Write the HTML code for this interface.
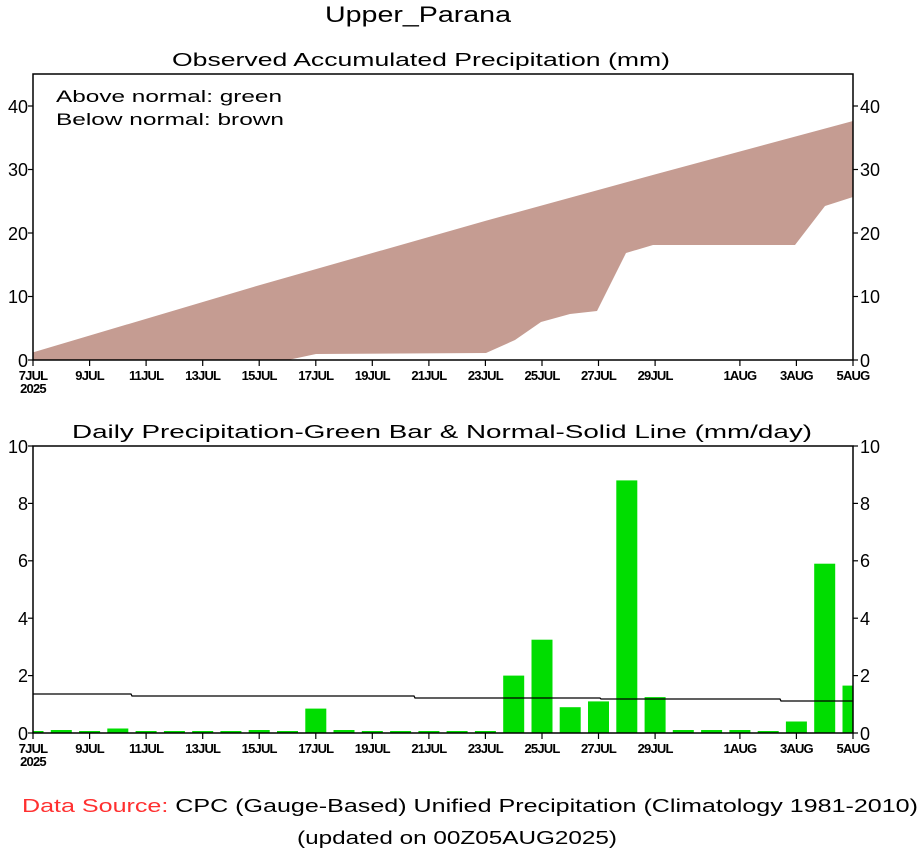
<!DOCTYPE html>
<html><head><meta charset="utf-8"><style>
html,body{margin:0;padding:0;background:#fff;}
svg{display:block;}
text{font-family:"Liberation Sans",sans-serif;fill:#000;}
</style></head><body>
<svg width="922" height="854" viewBox="0 0 922 854" xmlns="http://www.w3.org/2000/svg">
<defs><clipPath id="cb"><rect x="33" y="446" width="820" height="287"/></clipPath></defs>
<text x="325" y="22" font-size="22" textLength="186" lengthAdjust="spacingAndGlyphs">Upper_Parana</text>
<text x="172" y="66" font-size="18" textLength="498" lengthAdjust="spacingAndGlyphs">Observed Accumulated Precipitation (mm)</text>

<!-- top panel -->
<polygon fill="#c59c92" points="33,352.4 259.2,285.2 485.4,220.9 655.1,174.4 853,121 853,197 825,206 795,245 653,245 626,253 597,311 570,314 541,322 515,340 486,353 316,354 288,360 33,360"/>
<rect x="33" y="74" width="820" height="286" fill="none" stroke="#000" stroke-width="1.5"/>
<text x="56" y="102" font-size="17" textLength="226" lengthAdjust="spacingAndGlyphs">Above normal: green</text>
<text x="56" y="125" font-size="17" textLength="228" lengthAdjust="spacingAndGlyphs">Below normal: brown</text>
<g font-size="18">
<text x="28" y="367" text-anchor="end">0</text><text x="28" y="303" text-anchor="end">10</text><text x="28" y="240" text-anchor="end">20</text><text x="28" y="176" text-anchor="end">30</text><text x="28" y="113" text-anchor="end">40</text>
<text x="860" y="367">0</text><text x="860" y="303">10</text><text x="860" y="240">20</text><text x="860" y="176">30</text><text x="860" y="113">40</text>
</g>
<g stroke="#000" stroke-width="1.2">
<line x1="28" y1="360" x2="33" y2="360"/><line x1="28" y1="296.5" x2="33" y2="296.5"/><line x1="28" y1="233" x2="33" y2="233"/><line x1="28" y1="169.5" x2="33" y2="169.5"/><line x1="28" y1="106" x2="33" y2="106"/>
<line x1="853" y1="360" x2="858" y2="360"/><line x1="853" y1="296.5" x2="858" y2="296.5"/><line x1="853" y1="233" x2="858" y2="233"/><line x1="853" y1="169.5" x2="858" y2="169.5"/><line x1="853" y1="106" x2="858" y2="106"/>
</g>
<g id="xt" stroke="#000" stroke-width="1.2">
<line x1="33" y1="360" x2="33" y2="366"/><line x1="89.6" y1="360" x2="89.6" y2="366"/><line x1="146.1" y1="360" x2="146.1" y2="366"/><line x1="202.7" y1="360" x2="202.7" y2="366"/><line x1="259.2" y1="360" x2="259.2" y2="366"/><line x1="315.8" y1="360" x2="315.8" y2="366"/><line x1="372.3" y1="360" x2="372.3" y2="366"/><line x1="428.9" y1="360" x2="428.9" y2="366"/><line x1="485.4" y1="360" x2="485.4" y2="366"/><line x1="542" y1="360" x2="542" y2="366"/><line x1="598.5" y1="360" x2="598.5" y2="366"/><line x1="655.1" y1="360" x2="655.1" y2="366"/><line x1="739.9" y1="360" x2="739.9" y2="366"/><line x1="796.4" y1="360" x2="796.4" y2="366"/><line x1="853" y1="360" x2="853" y2="366"/>
</g>
<g id="xl" font-size="13" font-weight="bold" text-anchor="middle" letter-spacing="-0.8">
<text x="33" y="380">7JUL</text><text x="33" y="393">2025</text><text x="89.6" y="380">9JUL</text><text x="146.1" y="380">11JUL</text><text x="202.7" y="380">13JUL</text><text x="259.2" y="380">15JUL</text><text x="315.8" y="380">17JUL</text><text x="372.3" y="380">19JUL</text><text x="428.9" y="380">21JUL</text><text x="485.4" y="380">23JUL</text><text x="542" y="380">25JUL</text><text x="598.5" y="380">27JUL</text><text x="655.1" y="380">29JUL</text><text x="739.9" y="380">1AUG</text><text x="796.4" y="380">3AUG</text><text x="853" y="380">5AUG</text>
</g>

<!-- bottom panel -->
<text x="72" y="438" font-size="18" textLength="740" lengthAdjust="spacingAndGlyphs">Daily Precipitation-Green Bar &amp; Normal-Solid Line (mm/day)</text>
<g fill="#00dd00" clip-path="url(#cb)">
<rect x="22.5" y="731" width="21" height="2"/>
<rect x="50.8" y="730" width="21" height="3"/>
<rect x="79.1" y="731" width="21" height="2"/>
<rect x="107.3" y="728.5" width="21" height="4.5"/>
<rect x="135.6" y="731" width="21" height="2"/>
<rect x="163.9" y="731" width="21" height="2"/>
<rect x="192.2" y="731" width="21" height="2"/>
<rect x="220.4" y="731" width="21" height="2"/>
<rect x="248.7" y="730" width="21" height="3"/>
<rect x="277" y="731" width="21" height="2"/>
<rect x="305.3" y="708.6" width="21" height="24.4"/>
<rect x="333.5" y="730" width="21" height="3"/>
<rect x="361.8" y="731" width="21" height="2"/>
<rect x="390.1" y="731" width="21" height="2"/>
<rect x="418.4" y="731" width="21" height="2"/>
<rect x="446.6" y="731" width="21" height="2"/>
<rect x="474.9" y="731" width="21" height="2"/>
<rect x="503.2" y="675.6" width="21" height="57.4"/>
<rect x="531.5" y="639.7" width="21" height="93.3"/>
<rect x="559.7" y="707.2" width="21" height="25.8"/>
<rect x="588" y="701.4" width="21" height="31.6"/>
<rect x="616.3" y="480.4" width="21" height="252.6"/>
<rect x="644.6" y="697.1" width="21" height="35.9"/>
<rect x="672.8" y="730" width="21" height="3"/>
<rect x="701.1" y="730" width="21" height="3"/>
<rect x="729.4" y="730" width="21" height="3"/>
<rect x="757.7" y="731" width="21" height="2"/>
<rect x="785.9" y="721.5" width="21" height="11.5"/>
<rect x="814.2" y="563.7" width="21" height="169.3"/>
<rect x="842.5" y="685.6" width="21" height="47.4"/>
</g>
<polyline fill="none" stroke="#000" stroke-width="1.3" points="33,694 131,694 132,696 414,696 415,698 600,698 601,699 780,699 781,701 853,701"/>
<rect x="33" y="446" width="820" height="287" fill="none" stroke="#000" stroke-width="1.5"/>
<g font-size="18">
<text x="28" y="740" text-anchor="end">0</text><text x="28" y="682" text-anchor="end">2</text><text x="28" y="625" text-anchor="end">4</text><text x="28" y="567" text-anchor="end">6</text><text x="28" y="510" text-anchor="end">8</text><text x="28" y="453" text-anchor="end">10</text>
<text x="860" y="740">0</text><text x="860" y="682">2</text><text x="860" y="625">4</text><text x="860" y="567">6</text><text x="860" y="510">8</text><text x="860" y="453">10</text>
</g>
<g stroke="#000" stroke-width="1.2">
<line x1="28" y1="733" x2="33" y2="733"/><line x1="28" y1="675.6" x2="33" y2="675.6"/><line x1="28" y1="618.2" x2="33" y2="618.2"/><line x1="28" y1="560.8" x2="33" y2="560.8"/><line x1="28" y1="503.4" x2="33" y2="503.4"/><line x1="28" y1="446" x2="33" y2="446"/>
<line x1="853" y1="733" x2="858" y2="733"/><line x1="853" y1="675.6" x2="858" y2="675.6"/><line x1="853" y1="618.2" x2="858" y2="618.2"/><line x1="853" y1="560.8" x2="858" y2="560.8"/><line x1="853" y1="503.4" x2="858" y2="503.4"/><line x1="853" y1="446" x2="858" y2="446"/>
</g>
<use href="#xt" transform="translate(0,373)"/>
<use href="#xl" transform="translate(0,373)"/>

<text x="22" y="812" font-size="18" textLength="896" lengthAdjust="spacingAndGlyphs"><tspan fill="#ff3030">Data Source:</tspan> CPC (Gauge-Based) Unified Precipitation (Climatology 1981-2010)</text>
<text x="457" y="844" font-size="18" text-anchor="middle" textLength="320" lengthAdjust="spacingAndGlyphs">(updated on 00Z05AUG2025)</text>
</svg>
</body></html>
